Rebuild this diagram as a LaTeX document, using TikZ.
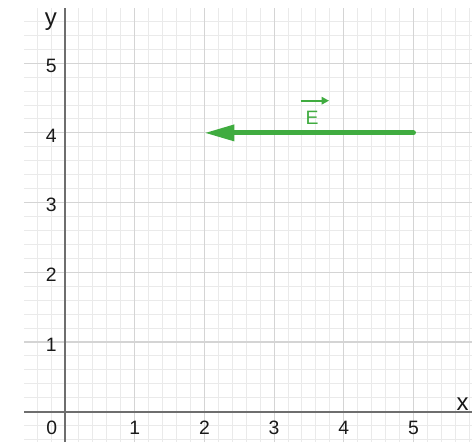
\documentclass[tikz,border=0pt]{standalone}
\usepackage{fontspec}
\setmainfont{Liberation Sans}
\usetikzlibrary{arrows.meta}
\definecolor{vecgreen}{RGB}{64,172,64}
\definecolor{majgrid}{RGB}{212,212,212}
\definecolor{mingrid}{RGB}{234,234,234}
\definecolor{axisgray}{RGB}{110,110,110}
\definecolor{labelgray}{RGB}{25,25,25}
\tikzset{
  minorgrid/.style={draw=mingrid, line width=0.4pt},
  majorgrid/.style={draw=majgrid, line width=0.45pt},
  axisline/.style={draw=axisgray, line width=0.65pt},
  ticklab/.style={inner sep=0pt, text=labelgray, font=\fontsize{7.9pt}{8.5pt}\selectfont},
  axislab/.style={inner sep=0pt, text=labelgray, font=\fontsize{9.8pt}{10.5pt}\selectfont, anchor=base},
  vecline/.style={draw=vecgreen, line width=2pt, line cap=round, -{Triangle[length=12.2pt,width=6.3pt]}},
}
\begin{document}
\begin{tikzpicture}[x=1cm,y=1cm]
\useasboundingbox[fill=white] (-0.9326,-0.4347) rectangle (5.8393,5.9067);
% minor grid
\foreach \i in {-2,...,29} {
  \draw[minorgrid] (\i/5,-0.4347) -- (\i/5,5.792);
}
\foreach \j in {-2,...,28} {
  \draw[minorgrid] (-0.588,\j/5) -- (5.8393,\j/5);
}
% major grid
\foreach \i in {1,...,5} {
  \draw[majorgrid] (\i,-0.4347) -- (\i,5.792);
}
\foreach \j in {1,...,5} {
  \draw[majorgrid] (-0.588,\j) -- (5.8393,\j);
}
% axes
\draw[axisline] (-0.588,0) -- (5.8393,0);
\draw[axisline] (0,-0.4347) -- (0,5.792);
% tick labels
\node[ticklab] (t0) at (-0.191,-0.236) {0};
\foreach \i in {1,...,5} {
  \node[ticklab] (tx\i) at (\i,-0.236) {\i};
  \node[ticklab, anchor=east] (ty\i) at (-0.112,\i-0.037) {\i};
}
\node[axislab] (xl) at (5.703,0.024) {x};
\node[axislab] (yl) at (-0.204,5.534) {y};
% vector
\coordinate (P) at (5,4);
\coordinate (Q) at (2,4);
\draw[vecline] (P) -- (Q);
\node[inner sep=0pt, text=vecgreen, font=\fontsize{7.9pt}{8.5pt}\selectfont] (E) at (3.544,4.214) {E};
\draw[draw=vecgreen, line width=0.75pt, -{Triangle[length=3pt,width=3pt]}] (3.379,4.462) -- (3.788,4.462);
\end{tikzpicture}
\end{document}
